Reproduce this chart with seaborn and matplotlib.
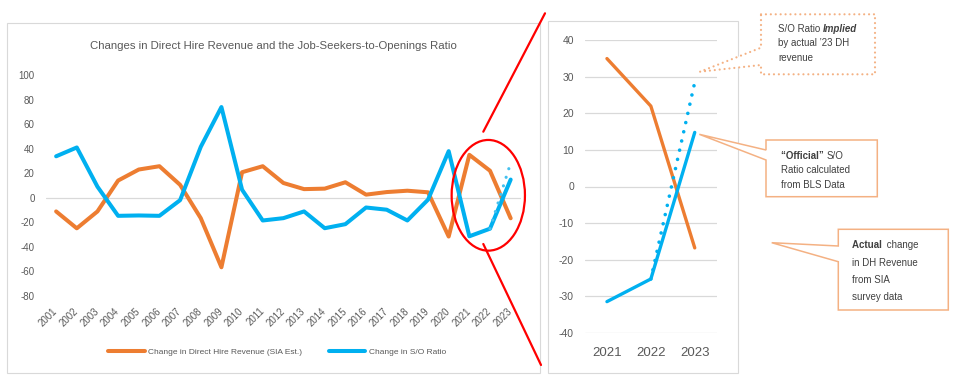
import matplotlib
matplotlib.use('Agg')
import matplotlib.pyplot as plt
import seaborn as sns
from matplotlib import patches

# data
years = list(range(2001, 2024))
dh_revenue = [-11.2, -25, -11.2, 14, 23, 25.7, 10.5, -16.7, -56.8, 20.8, 25.7, 12,
              7, 7.4, 12.6, 2.5, 4.6, 5.7, 4.4, -31.7, 35, 22, -16.8]
so_ratio = [33.8, 41, 9, -14.8, -14.5, -14.8, -2, 41.5, 74, 6.5, -18.6, -16.7,
            -11.2, -24.9, -21.6, -8, -9.8, -18.6, -1.6, 38, -31.5, -25.3, 14.8]
implied_years = [2022, 2023]
so_implied = [-25.3, 28.5]
zoom_years = years[-3:]
dh_label = 'Change in Direct Hire Revenue (SIA Est.)'
so_label = 'Change in S/O Ratio'

ORANGE = '#ED7D31'
BLUE = '#00B0F0'
GREY = '#595959'
PEACH = '#F4B183'
W, H = 956, 377

sns.set_style('white')
plt.rcParams['font.family'] = ['Liberation Sans', 'DejaVu Sans']
plt.rcParams['axes.unicode_minus'] = False


def frac(x0, y0, x1, y1):
    # pixel box (top-left origin) -> figure fraction rect
    return [x0 / W, 1 - y1 / H, (x1 - x0) / W, (y1 - y0) / H]


fig = plt.figure(figsize=(W / 100, H / 100), dpi=100)

# ---- left: full history ----
ax = fig.add_axes(frac(45.8, 75.2, 521, 295.7))
sns.lineplot(x=years, y=dh_revenue, color=ORANGE, lw=2.9, label=dh_label, ax=ax)
sns.lineplot(x=years, y=so_ratio, color=BLUE, lw=2.9, label=so_label, ax=ax)
sns.lineplot(x=implied_years, y=so_implied, color='#45C0EE', lw=2.3,
             linestyle=(0, (0.01, 2.8)), dash_capstyle='round', ax=ax)
ax.axhline(0, color='#D9D9D9', lw=0.9, zorder=0)
ax.set_xlim(2000.5, 2023.5)
ax.set_ylim(-80, 100)
ax.set_yticks(range(-80, 101, 20))
ax.set_xticks(years)
ax.set_xticklabels([str(y) for y in years], rotation=45, ha='right', va='center',
                   rotation_mode='anchor')
ax.tick_params(axis='y', length=0, labelsize=7, colors=GREY, pad=8)
ax.tick_params(axis='x', length=0, labelsize=7, colors=GREY, pad=10)
ax.set_xlabel('')
ax.set_ylabel('')
sns.despine(ax=ax, left=True, bottom=True)
handles, labels = ax.get_legend_handles_labels()
if ax.get_legend() is not None:
    ax.get_legend().remove()
fig.legend(handles, labels, loc='center', bbox_to_anchor=(277 / W, 1 - 352.3 / H),
           ncol=2, frameon=False, fontsize=6, labelcolor=GREY,
           handlelength=4.4, handletextpad=0.42, columnspacing=3.2)
fig.text(273.8 / W, 1 - 46 / H,
         'Changes in Direct Hire Revenue and the Job-Seekers-to-Openings Ratio',
         ha='center', va='center', fontsize=8.2, color=GREY)

# ---- right: zoom on 2021-2023 ----
az = fig.add_axes(frac(585, 40.3, 716.7, 332.7))
sns.lineplot(x=zoom_years, y=dh_revenue[-3:], color=ORANGE, lw=2.4, ax=az)
sns.lineplot(x=zoom_years, y=so_ratio[-3:], color=BLUE, lw=2.4, ax=az)
sns.lineplot(x=implied_years, y=so_implied, color=BLUE, lw=2.6,
             linestyle=(0, (0.01, 2.6)), dash_capstyle='round', ax=az)
az.set_xlim(2020.5, 2023.5)
az.set_ylim(-40, 40)
az.set_yticks(range(-40, 41, 10))
az.set_xticks(zoom_years)
az.set_xticklabels([str(y) for y in zoom_years], fontsize=9.5)
az.grid(axis='y', color='#D9D9D9', lw=0.9)
az.set_axisbelow(True)
az.tick_params(axis='y', length=0, labelsize=7.5, colors=GREY, pad=8)
az.tick_params(axis='x', length=0, colors=GREY, pad=10)
az.set_xlabel('')
az.set_ylabel('')
sns.despine(ax=az, left=True, bottom=True)

# ---- overlay in pixel coordinates: frames, red zoom marker, callouts ----
ov = fig.add_axes([0, 0, 1, 1], zorder=10)
ov.set_xlim(0, W)
ov.set_ylim(H, 0)
ov.axis('off')
ov.patch.set_alpha(0)

ov.add_patch(patches.Rectangle((6.9, 23.3), 533.1, 350, fill=False, ec='#D9D9D9', lw=0.8))
ov.add_patch(patches.Rectangle((548.3, 20.7), 190, 352, fill=False, ec='#D9D9D9', lw=0.8))

ov.add_patch(patches.Ellipse((488.3, 195.3), 73.3, 110.7, fill=False, ec='red', lw=1.6))
ov.plot([483.3, 545], [131.7, 13.3], color='red', lw=1.6)
ov.plot([483.3, 541], [244, 365], color='red', lw=1.6)

c1 = [(761, 14.3), (875, 14.3), (875, 74.3), (761, 74.3), (761, 65), (700, 71.7), (761, 47.7)]
ov.add_patch(patches.Polygon(c1, closed=True, fc='white', ec=PEACH, lw=1.6,
                             linestyle=(0, (0.01, 2.2)), capstyle='round'))
c2 = [(766, 140), (877.3, 140), (877.3, 196.7), (766, 196.7), (766, 160), (699.3, 134.3), (766, 150)]
ov.add_patch(patches.Polygon(c2, closed=True, fc='white', ec=PEACH, lw=1.1))
c3 = [(838.3, 229.3), (948.3, 229.3), (948.3, 310), (838.3, 310), (838.3, 261.7), (771.7, 242.7), (838.3, 246)]
ov.add_patch(patches.Polygon(c3, closed=True, fc='white', ec=PEACH, lw=1.1))

TXT = '#404040'
note = dict(fontsize=7, color=TXT, va='center', ha='left')
renderer = fig.canvas.get_renderer()


def two_part(x, y, first, second, bold_first):
    # line with mixed weight: place the second run right after the first
    w1 = dict(fontweight='bold') if bold_first else {}
    w2 = {} if bold_first else dict(fontweight='bold', style='italic')
    t = ov.text(x, y, first + ' ', **note, **w1)
    bb = t.get_window_extent(renderer).transformed(ov.transData.inverted())
    ov.text(max(bb.x0, bb.x1), y, second, **note, **w2)


two_part(778, 29, 'S/O Ratio', 'Implied', False)
ov.text(778, 43.3, 'by actual \u201923 DH', **note)
ov.text(778, 58.3, 'revenue', **note)
two_part(780.7, 155.7, '\u201cOfficial\u201d', 'S/O', True)
ov.text(780.7, 170, 'Ratio calculated', **note)
ov.text(780.7, 185, 'from BLS Data', **note)
two_part(851.7, 245, 'Actual', ' change', True)
ov.text(851.7, 262.7, 'in DH Revenue', **note)
ov.text(851.7, 280, 'from SIA', **note)
ov.text(851.7, 297.3, 'survey data', **note)

fig.savefig('out.png', dpi=100)
